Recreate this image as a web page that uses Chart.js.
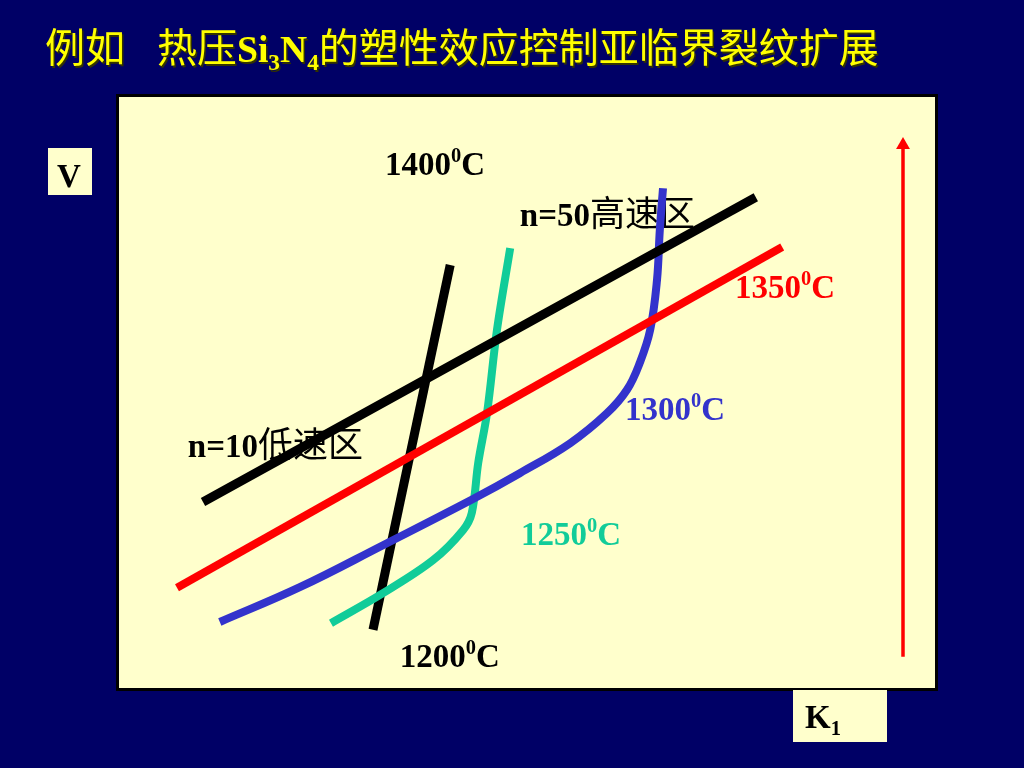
<!DOCTYPE html>
<html lang="zh">
<head>
<meta charset="UTF-8">
<title>热压Si3N4 亚临界裂纹扩展</title>
<script src="https://cdn.jsdelivr.net/npm/chart.js"></script>
<style>
  html, body { margin: 0; padding: 0; background: #000066; }
  canvas { display: block; }
</style>
</head>
<body>
<canvas id="chart" width="1024" height="768"></canvas>
<script>
// schematic log K1 (x) vs log V (y), arbitrary units
const lowSpeedLineK = [10.5, 79.6];          // long shallow black line
const lowSpeedLineV = [31.0, 81.8];
const line1350K = [7.25, 82.9];              // red line
const line1350V = [16.7, 73.5];
const steepLineK = [31.75, 41.4];            // steep black line
const steepLineV = [9.7, 70.5];
const curve1250K = [26.5, 33.0, 39.25, 43.0, 44.1, 44.9, 46.0, 47.25, 48.9];
const curve1250V = [10.8, 15.8, 21.3, 26.3, 29.2, 37.5, 45.8, 59.7, 73.3];
const curve1300K = [12.6, 22.6, 33.0, 44.25, 50.1, 56.4, 61.0, 63.5, 65.1, 66.4, 67.25, 67.6, 68.0];
const curve1300V = [11.0, 16.8, 23.8, 31.5, 35.8, 40.8, 45.8, 49.7, 54.2, 59.7, 68.0, 76.3, 83.3];
const arrowK = [98.0, 98.0];
const arrowV = [5.2, 90.5];

const pts = (xs, ys) => xs.map((x, i) => ({ x: x, y: ys[i] }));

const SERIF = '"Liberation Serif", "Times New Roman", serif';
const CJK = '"Noto Sans CJK SC", sans-serif';

// text labels inside the panel, anchored in data units (left, baseline)
const labels = [
  { x: 33.25, y: 85.5, color: '#000000', segs: [['1400'], ['0', 'sup'], ['C']] },
  { x: 50.1, y: 77.0, color: '#000000', segs: [['n=50'], ['高速区', 'cjk']] },
  { x: 77.0, y: 65.0, color: '#FF0000', segs: [['1350'], ['0', 'sup'], ['C']] },
  { x: 63.25, y: 44.7, color: '#3333CC', segs: [['1300'], ['0', 'sup'], ['C']] },
  { x: 8.6, y: 38.5, color: '#000000', segs: [['n=10'], ['低速区', 'cjk']] },
  { x: 50.25, y: 23.8, color: '#11CC99', segs: [['1250'], ['0', 'sup'], ['C']] },
  { x: 35.1, y: 3.5, color: '#000000', segs: [['1200'], ['0', 'sup'], ['C']] }
];

function drawRich(ctx, x, y, segs, color, size, cjkWeight) {
  ctx.save();
  ctx.fillStyle = color;
  ctx.textBaseline = 'alphabetic';
  ctx.textAlign = 'left';
  segs.forEach(s => {
    const kind = s[1] || 'serif';
    let fs = size, dy = 0, font;
    if (kind === 'sup') { fs = size * 0.62; dy = -size * 0.4; }
    if (kind === 'sub') { fs = size * 0.62; dy = size * 0.22; }
    if (kind === 'cjk') font = cjkWeight + ' ' + Math.round(size * 1.07) + 'px ' + CJK;
    else font = 'bold ' + fs + 'px ' + SERIF;
    ctx.font = font;
    ctx.fillText(s[0], x, y + dy);
    x += ctx.measureText(s[0]).width;
  });
  ctx.restore();
  return x;
}

const slidePlugin = {
  id: 'slide',
  beforeDraw(chart) {
    const { ctx, chartArea: a } = chart;
    ctx.save();
    ctx.fillStyle = '#000066';
    ctx.fillRect(0, 0, chart.width, chart.height);
    ctx.fillStyle = '#FFFFCC';
    ctx.fillRect(a.left, a.top, a.right - a.left, a.bottom - a.top);
    ctx.lineWidth = 3;
    ctx.strokeStyle = '#000000';
    ctx.strokeRect(a.left - 1.5, a.top - 1.5, a.right - a.left + 3, a.bottom - a.top + 3);

    // axis name boxes
    ctx.fillStyle = '#FFFFCC';
    ctx.fillRect(48, 148, 44, 47);
    ctx.fillRect(793, 690, 94, 52);
    ctx.restore();

    drawRich(ctx, 57, 187, [['V']], '#000000', 33, 'normal');
    drawRich(ctx, 805, 728, [['K'], ['1', 'sub']], '#000000', 33, 'normal');

    // slide title, with a faint shadow like the slide
    const title = (dx, col) => {
      const y = 62 + dx;
      drawRich(ctx, 45 + dx, y, [['例如', 'cjk']], col, 37.6, 'normal');
      drawRich(ctx, 157 + dx, y, [
        ['热压', 'cjk'], ['Si'], ['3', 'sub'], ['N'], ['4', 'sub'],
        ['的塑性效应控制亚临界裂纹扩展', 'cjk']
      ], col, 37.6, 'normal');
    };
    title(1.5, '#333300');
    title(0, '#FFFF00');
  },
  beforeDatasetsDraw(chart) {
    const { ctx, scales } = chart;
    labels.forEach(l => {
      drawRich(ctx, scales.x.getPixelForValue(l.x), scales.y.getPixelForValue(l.y),
        l.segs, l.color, 33, 'normal');
    });
  }
};

const lineStyle = (data, color, width) => ({
  data: data,
  showLine: true,
  borderColor: color,
  backgroundColor: color,
  borderWidth: width,
  borderCapStyle: 'butt',
  borderJoinStyle: 'round',
  pointRadius: 0,
  fill: false
});

new Chart(document.getElementById('chart').getContext('2d'), {
  type: 'scatter',
  data: {
    datasets: [
      lineStyle(pts(lowSpeedLineK, lowSpeedLineV), '#000000', 9),
      lineStyle(pts(line1350K, line1350V), '#FF0000', 8),
      Object.assign(lineStyle(pts(curve1300K, curve1300V), '#3333CC', 8), { tension: 0.4 }),
      Object.assign(lineStyle(pts(curve1250K, curve1250V), '#11CC99', 8), { tension: 0.35 }),
      lineStyle(pts(steepLineK, steepLineV), '#000000', 9),
      Object.assign(lineStyle(pts(arrowK, arrowV), '#FF0000', 3.5), {
        pointRadius: [0, 8], pointStyle: 'triangle', pointBorderWidth: 0
      })
    ]
  },
  options: {
    responsive: false,
    animation: false,
    layout: { padding: { left: 119, top: 97, right: 89, bottom: 80 } },
    plugins: { legend: { display: false }, tooltip: { enabled: false } },
    scales: {
      x: { type: 'linear', display: false, min: 0, max: 102 },
      y: { type: 'linear', display: false, min: 0, max: 98.5 }
    }
  },
  plugins: [slidePlugin]
});
</script>
</body>
</html>
